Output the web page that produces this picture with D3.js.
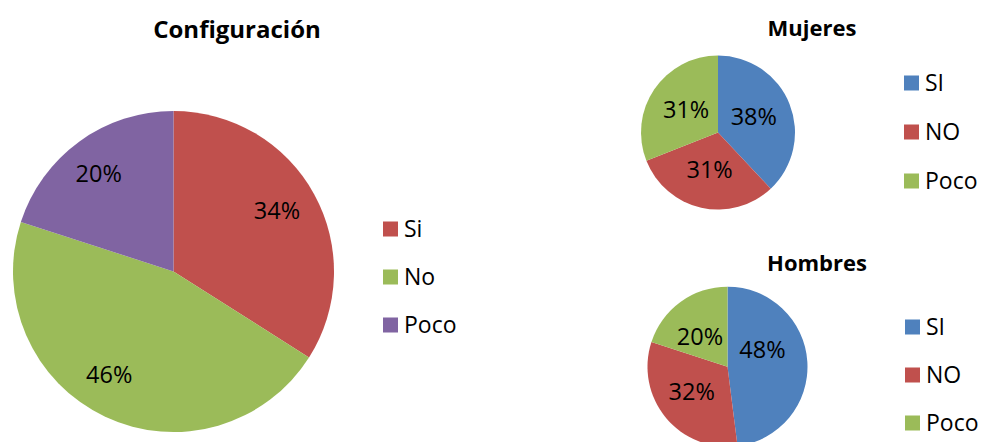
<!DOCTYPE html>
<html>
<head>
<meta charset="utf-8">
<script src="https://cdn.jsdelivr.net/npm/d3@7"></script>
<style>
  html, body { margin: 0; padding: 0; background: #fff; }
  svg { display: block; }
  text { font-family: "Open Sans", "Liberation Sans", sans-serif; fill: #000; }
</style>
</head>
<body>
<svg id="chart" width="982" height="442"></svg>
<script>
// ---- Data ----
const configCategories = ["Si", "No", "Poco"];
const configValues = [34, 46, 20];

const mujeresCategories = ["SI", "NO", "Poco"];
const mujeresValues = [38, 31, 31];

const hombresCategories = ["SI", "NO", "Poco"];
const hombresValues = [48, 32, 20];

// ---- Layout / style ----
const charts = [
  { title: "Configuración", cats: configCategories, vals: configValues,
    colors: ["#C0504D", "#9BBB59", "#8064A2"],
    cx: 173.5, cy: 271.5, r: 160.5, labelR: 0.75,
    nudge: [[-2, -3], [-13, -6], [-4, 0]],
    titleX: 237, titleY: 38, titleSize: 24,
    legendX: 383, legendY: 229, legendStep: 48 },
  { title: "Mujeres", cats: mujeresCategories, vals: mujeresValues,
    colors: ["#4F81BD", "#C0504D", "#9BBB59"],
    cx: 718, cy: 132.5, r: 77, labelR: 0.5,
    nudge: [[0, -2], [0, 0], [0, -1]],
    titleX: 812, titleY: 36, titleSize: 22,
    legendX: 904, legendY: 83, legendStep: 49 },
  { title: "Hombres", cats: hombresCategories, vals: hombresValues,
    colors: ["#4F81BD", "#C0504D", "#9BBB59"],
    cx: 727.5, cy: 366.7, r: 80, labelR: 0.5,
    nudge: [[-5, -14], [-5, 0], [-4, 2]],
    titleX: 817, titleY: 271, titleSize: 22,
    legendX: 905, legendY: 327, legendStep: 48 }
];

const svg = d3.select("#chart");

charts.forEach(c => {
  const data = c.cats.map((k, i) => ({ cat: k, val: c.vals[i] }));
  const color = d3.scaleOrdinal().domain(c.cats).range(c.colors);
  const pie = d3.pie().sort(null).value(d => d.val);
  const arcs = pie(data);
  const arc = d3.arc().innerRadius(0).outerRadius(c.r);
  const labelArc = d3.arc().innerRadius(c.r * c.labelR).outerRadius(c.r * c.labelR);

  const g = svg.append("g").attr("transform", `translate(${c.cx},${c.cy})`);
  g.selectAll("path").data(arcs).join("path")
    .attr("d", arc)
    .attr("fill", d => color(d.data.cat));

  g.selectAll("text.lbl").data(arcs).join("text")
    .attr("class", "lbl")
    .attr("transform", (d, i) => {
      const [x, y] = labelArc.centroid(d);
      return `translate(${x + c.nudge[i][0]},${y + c.nudge[i][1]})`;
    })
    .attr("text-anchor", "middle")
    .attr("dy", "0.35em")
    .style("font-size", "23.5px")
    .text(d => Math.round(d.data.val) + "%");

  svg.append("text")
    .attr("x", c.titleX).attr("y", c.titleY)
    .attr("text-anchor", "middle")
    .style("font-size", c.titleSize + "px")
    .style("font-weight", "bold")
    .text(c.title);

  const lg = svg.append("g");
  const items = lg.selectAll("g").data(c.cats).join("g")
    .attr("transform", (d, i) => `translate(${c.legendX},${c.legendY + i * c.legendStep})`);
  items.append("rect")
    .attr("x", 0).attr("y", -7.5).attr("width", 15).attr("height", 15)
    .attr("fill", d => color(d));
  items.append("text")
    .attr("x", 21).attr("y", 0).attr("dy", "0.36em")
    .style("font-size", "23px")
    .text(d => d);
});
</script>
</body>
</html>
